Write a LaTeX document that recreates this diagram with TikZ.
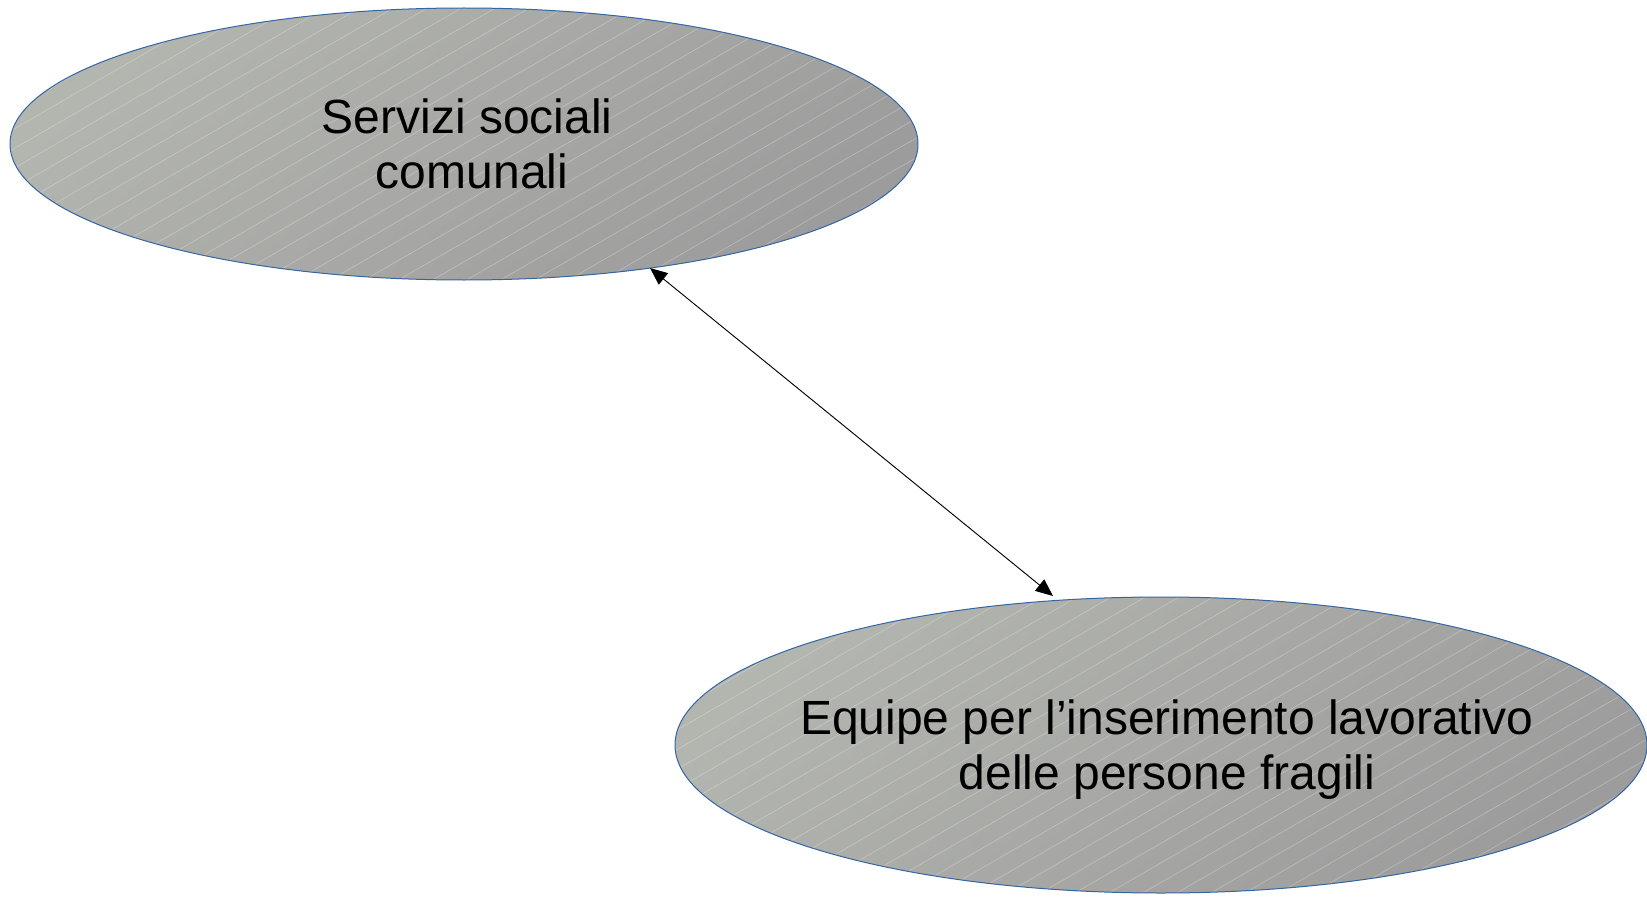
\documentclass[tikz,border=0pt]{standalone}
\usepackage{fontspec}
\setmainfont{Liberation Sans}
\usetikzlibrary{shapes.geometric,arrows.meta,calc}
\definecolor{edgeblue}{HTML}{3465A4}
\definecolor{fillA}{HTML}{B3B5AF}
\definecolor{fillB}{HTML}{9C9C9C}
\tikzset{
  bubble/.style={ellipse, draw=edgeblue, line width=0.75pt, inner sep=0pt,
    top color=fillA, bottom color=fillB, shading angle=40,
    path picture={
      \foreach \k in {-40,...,40}{
        \draw[white, opacity=0.28, line width=0.5pt]
          ($(path picture bounding box.center)+(\k*34-606,350)$) -- ++(1212,-700);
      }
    }},
  lbl/.style={font=\fontsize{36}{41.3}\selectfont, align=center, inner sep=0pt},
  link/.style={{Triangle[length=13pt,width=11pt]}-{Triangle[length=13pt,width=11pt]}, line width=0.7pt, black}
}
\begin{document}
\begin{tikzpicture}[x=0.75pt,y=-0.75pt]
  \useasboundingbox (0,0) rectangle (1647,899);
  \node[bubble, minimum width=681pt, minimum height=204pt] (e1) at (464,144) {};
  \node[lbl] (t1) at (472,144) {Servizi sociali\hspace*{0.2em}\\comunali};
  \node[bubble, minimum width=729pt, minimum height=222pt] (e2) at (1161,745) {};
  \node[lbl] (t2) at (1167,750) {Equipe per l’inserimento lavorativo\\delle persone fragili};
  \coordinate (tip1) at ($(e1.center)+(186,124)$);
  \coordinate (tip2) at ($(e2.center)+(-108,-149)$);
  \draw[link] (tip1) -- (tip2);
\end{tikzpicture}
\end{document}
